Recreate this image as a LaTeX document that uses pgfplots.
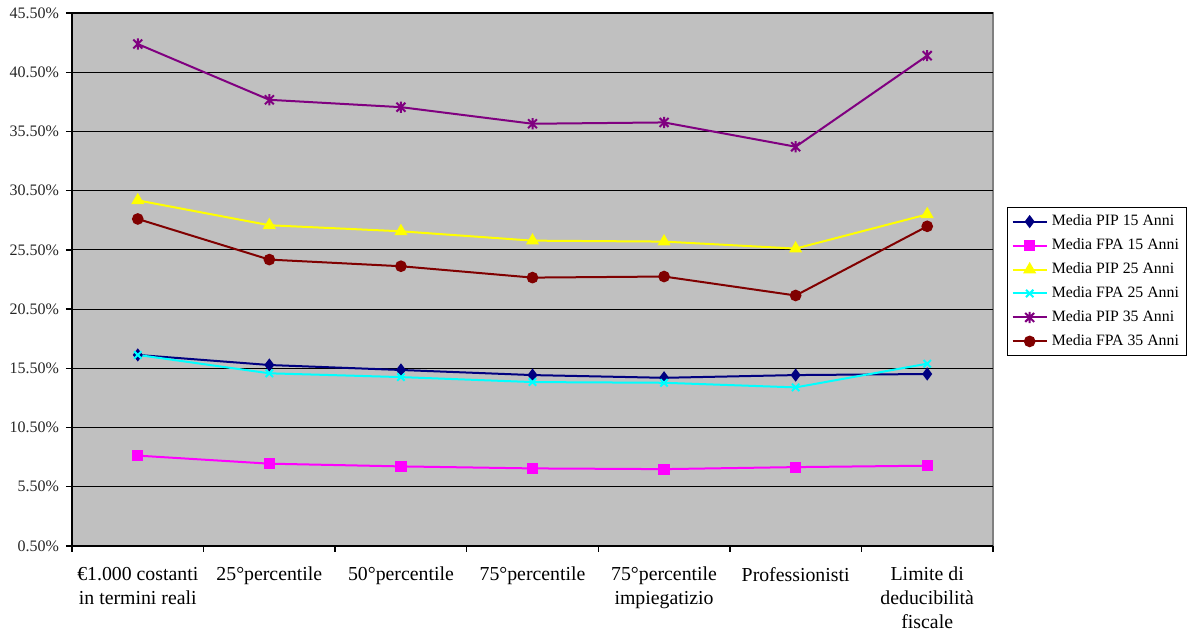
\documentclass[border=0pt]{standalone}
\usepackage{fontspec}
\setmainfont{Liberation Serif}
\usepackage{pgfplots}
\pgfplotsset{compat=1.18}

\definecolor{plotbg}{HTML}{C0C0C0}
\definecolor{frame}{HTML}{808080}
\definecolor{pip15}{HTML}{000080}
\definecolor{fpa15}{HTML}{FF00FF}
\definecolor{pip25}{HTML}{FFFF00}
\definecolor{fpa25}{HTML}{00FFFF}
\definecolor{pip35}{HTML}{800080}
\definecolor{fpa35}{HTML}{800000}

% asterisk made of a vertical bar and a cross
\pgfdeclareplotmark{xstar}{%
  \pgfpathmoveto{\pgfqpoint{0pt}{\pgfplotmarksize}}%
  \pgfpathlineto{\pgfqpoint{0pt}{-\pgfplotmarksize}}%
  \pgfpathmoveto{\pgfqpoint{-0.8\pgfplotmarksize}{0.8\pgfplotmarksize}}%
  \pgfpathlineto{\pgfqpoint{0.8\pgfplotmarksize}{-0.8\pgfplotmarksize}}%
  \pgfpathmoveto{\pgfqpoint{-0.8\pgfplotmarksize}{-0.8\pgfplotmarksize}}%
  \pgfpathlineto{\pgfqpoint{0.8\pgfplotmarksize}{0.8\pgfplotmarksize}}%
  \pgfusepathqstroke}

\begin{document}
\begin{tikzpicture}
\path[use as bounding box] (0,0) rectangle (593.5pt,317.5pt);
\begin{axis}[
  at={(36pt,44.5pt)}, anchor=south west,
  width=460.5pt, height=266.5pt, scale only axis,
  xmin=-0.5, xmax=6.5, ymin=0.5, ymax=45.5,
  axis lines*=left,
  axis line style={black, line width=0.7pt},
  axis background/.style={fill=plotbg, draw=frame, line width=0.7pt},
  ytick={0.5,5.5,...,45.5},
  yticklabel={\pgfmathprintnumber[fixed,fixed zerofill,precision=2]{\tick}\%},
  /pgf/number format/assume math mode=true,
  ymajorgrids,
  grid style={black, line width=0.6pt},
  xtick={-0.5,0.5,...,6.5},
  xticklabels={},
  extra x ticks={0,1,2,3,4,5,6},
  extra x tick labels={{€1.000 costanti\\in termini reali},{25°percentile},{50°percentile},{75°percentile},{75°percentile\\impiegatizio},{Professionisti},{Limite di\\deducibilità\\fiscale}},
  extra x tick style={major tick length=0pt, xmajorgrids=false},
  tick align=outside,
  major tick length=3pt,
  tick style={black, line width=0.7pt},
  yticklabel style={font=\fontsize{8}{9.6}\selectfont, text=black!85},
  xticklabel style={font=\fontsize{9.9}{12}\selectfont, align=center, yshift=-7pt},
  legend style={at={(1.0152,0.636)}, anchor=north west, draw=black, fill=white,
    font=\fontsize{7.9}{9}\selectfont, line width=0.6pt,
    inner xsep=2pt, inner ysep=2pt, row sep=2pt,
    nodes={inner ysep=1.5pt}},
  legend cell align=left,
  every axis plot/.append style={line width=1pt},
]
\addplot[pip15, mark=diamond*, mark size=2.5pt, mark options={solid}] coordinates {
  (0,16.63) (1,15.78) (2,15.36) (3,14.93) (4,14.70) (5,14.93) (6,15.02)};
\addlegendentry{Media PIP 15 Anni}
\addplot[fpa15, mark=square*, mark size=2.3pt] coordinates {
  (0,8.13) (1,7.45) (2,7.22) (3,7.05) (4,6.99) (5,7.16) (6,7.28)};
\addlegendentry{Media FPA 15 Anni}
\addplot[pip25, mark=triangle*, mark size=2.8pt] coordinates {
  (0,29.68) (1,27.58) (2,27.07) (3,26.28) (4,26.20) (5,25.61) (6,28.50)};
\addlegendentry{Media PIP 25 Anni}
\addplot[fpa25, mark=x, mark size=2.6pt] coordinates {
  (0,16.63) (1,15.08) (2,14.76) (3,14.34) (4,14.28) (5,13.89) (6,15.89)};
\addlegendentry{Media FPA 25 Anni}
\addplot[pip35, mark=xstar, mark size=2.8pt] coordinates {
  (0,42.88) (1,38.17) (2,37.55) (3,36.15) (4,36.26) (5,34.21) (6,41.90)};
\addlegendentry{Media PIP 35 Anni}
\addplot[fpa35, mark=*, mark size=2.4pt] coordinates {
  (0,28.11) (1,24.68) (2,24.12) (3,23.16) (4,23.25) (5,21.65) (6,27.49)};
\addlegendentry{Media FPA 35 Anni}
\end{axis}
\end{tikzpicture}
\end{document}
